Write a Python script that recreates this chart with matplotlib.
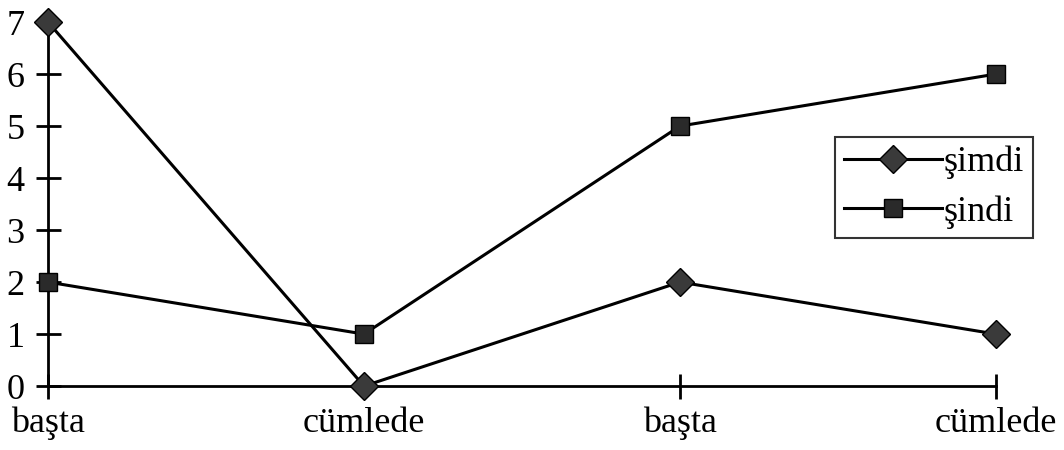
import matplotlib
matplotlib.use("Agg")
import matplotlib.pyplot as plt

# data
categories = ["başta", "cümlede", "başta", "cümlede"]
simdi = [7, 0, 2, 1]
sindi = [2, 1, 5, 6]
y_ticks = [0, 1, 2, 3, 4, 5, 6, 7]

plt.rcParams['font.family'] = ['Liberation Serif', 'DejaVu Serif']

fig = plt.figure(figsize=(10.64, 4.5), dpi=100)
ax = fig.add_axes([0.0451, 0.142, 0.8910, 0.809])

x = list(range(len(categories)))
ax.plot(x, simdi, color='black', lw=2.2, marker='D', markersize=14,
        markerfacecolor='#3a3a3a', markeredgecolor='black', markeredgewidth=1,
        clip_on=False, zorder=3, label='şimdi')
ax.plot(x, sindi, color='black', lw=2.2, marker='s', markersize=13,
        markerfacecolor='#2a2a2a', markeredgecolor='black', markeredgewidth=1,
        clip_on=False, zorder=3, label='şindi')

ax.set_xlim(0, 3)
ax.set_ylim(0, 7)
ax.set_xticks(x)
ax.set_xticklabels(categories)
ax.set_yticks(y_ticks)

for side in ('top', 'right'):
    ax.spines[side].set_visible(False)
for side in ('left', 'bottom'):
    ax.spines[side].set_linewidth(2)

ax.tick_params(axis='both', direction='inout', length=18, width=2,
               labelsize=26, colors='black')
ax.tick_params(axis='x', pad=6)
ax.tick_params(axis='y', pad=8)

leg = ax.legend(loc='upper left', bbox_to_anchor=(0.785, 0.696),
                bbox_transform=fig.transFigure,
                frameon=True, fancybox=False, fontsize=26,
                handlelength=2.7, handletextpad=0.05, borderpad=0.25,
                labelspacing=0.45, borderaxespad=0)
leg.get_frame().set_edgecolor('black')
leg.get_frame().set_linewidth(1.5)

fig.savefig('out.png', dpi=100)
